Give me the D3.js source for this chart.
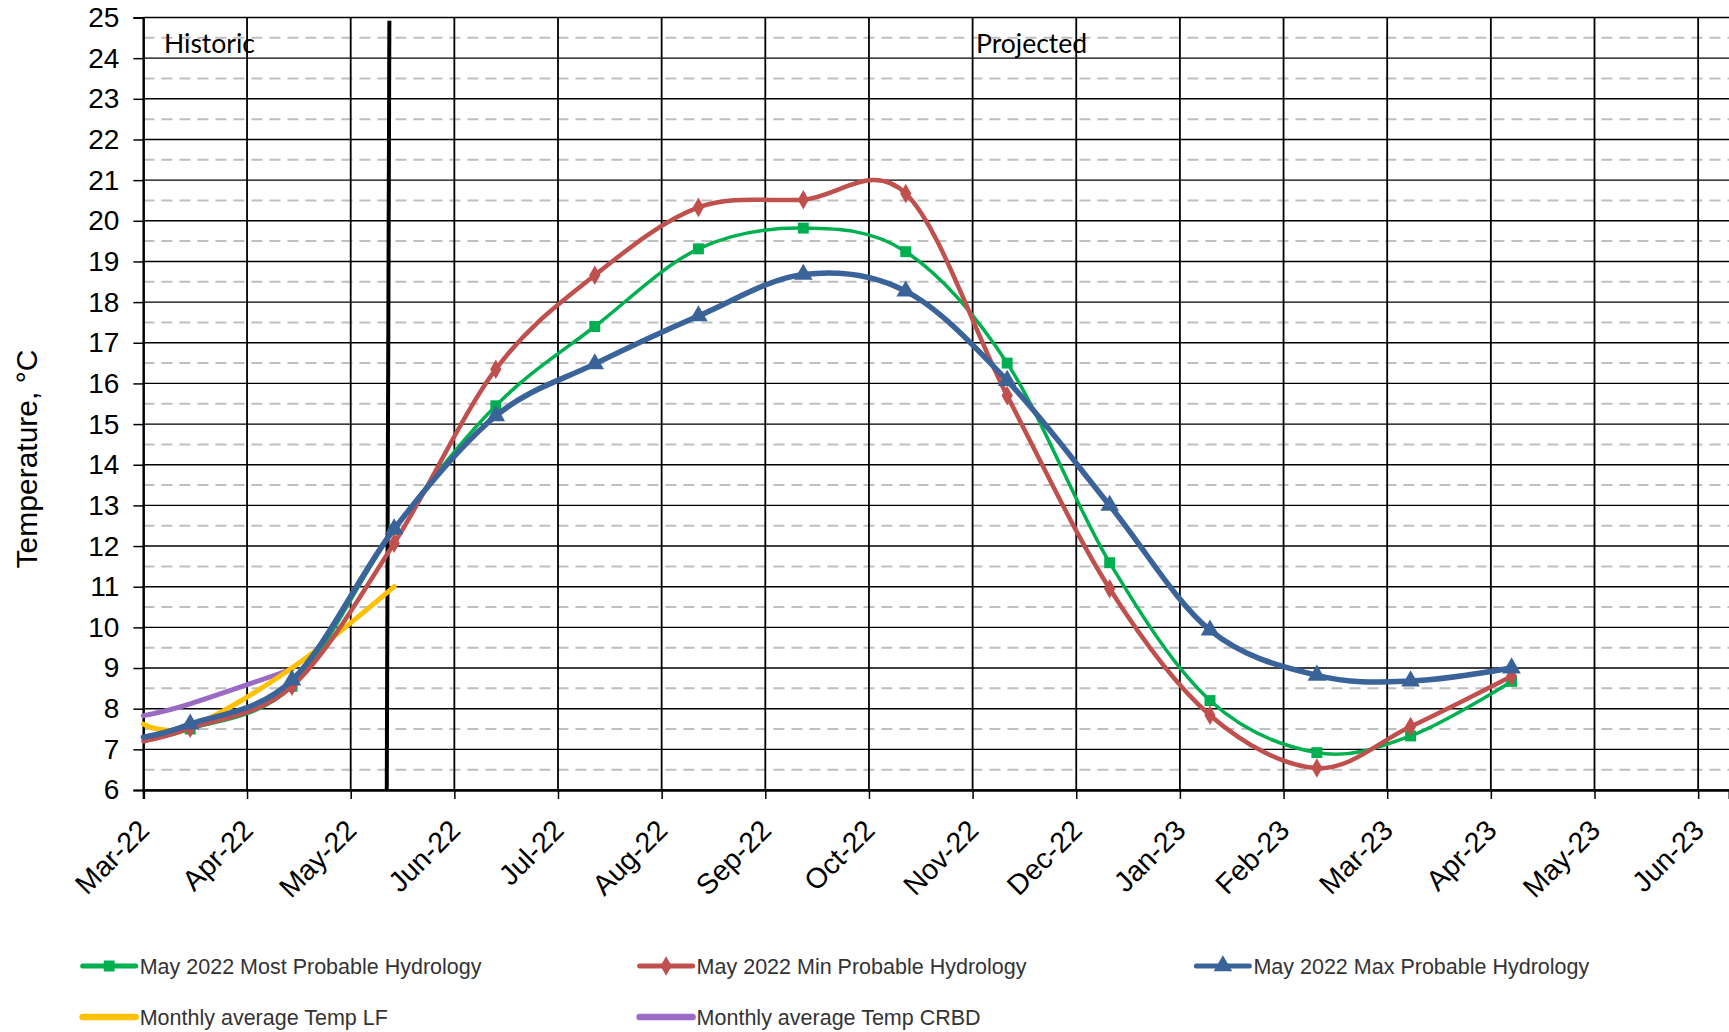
<!DOCTYPE html>
<html><head><meta charset="utf-8">
<script src="https://cdn.jsdelivr.net/npm/d3@7"></script>
<style>html,body{margin:0;padding:0;background:#fff;overflow:hidden}</style>
</head><body>
<svg id="chart" width="1729" height="1032"></svg>
<script>
// ---------- data ----------
const monthLabels = ["Mar-22","Apr-22","May-22","Jun-22","Jul-22","Aug-22","Sep-22","Oct-22","Nov-22","Dec-22","Jan-23","Feb-23","Mar-23","Apr-23","May-23","Jun-23"];
const yTickValues = [6,7,8,9,10,11,12,13,14,15,16,17,18,19,20,21,22,23,24,25];
const pointDates = ["2022-03-01","2022-03-15","2022-04-14","2022-05-14","2022-06-13","2022-07-12","2022-08-12","2022-09-12","2022-10-12","2022-11-11","2022-12-11","2023-01-10","2023-02-10","2023-03-08","2023-04-07"];
const mostProbable = [7.25, 7.5, 8.55, 12.4, 15.45, 17.4, 19.31, 19.82, 19.24, 16.5, 11.59, 8.2, 6.92, 7.33, 8.67];
const minProbable  = [7.2, 7.52, 8.55, 12.07, 16.35, 18.66, 20.33, 20.52, 20.67, 15.7, 10.95, 7.84, 6.54, 7.56, 8.8];
const maxProbable  = [7.3, 7.62, 8.7, 12.42, 15.2, 16.48, 17.66, 18.68, 18.27, 16.07, 13.0, 9.93, 8.82, 8.68, 9.0];
const lfDates = ["2022-03-01","2022-03-15","2022-04-14","2022-05-14"];
const lfTemp  = [7.62, 7.55, 9.0, 11.0];
const crbdDates = ["2022-03-01","2022-03-15","2022-04-14"];
const crbdTemp  = [7.83, 8.12, 8.97];
const dividerPos  = [2.373, 2.348];   // in months after Mar-22
const dividerTemp = [24.92, 6];
const seriesNames = ["May 2022 Most Probable Hydrology","May 2022 Min Probable Hydrology","May 2022 Max Probable Hydrology","Monthly average Temp LF","Monthly average Temp CRBD"];
const seriesColors = ["#00b050","#c0504d","#3a6399","#ffc000","#9b6bc4"];

// ---------- helpers ----------
function monthPos(s){
  const [yy,mm,dd] = s.split("-").map(Number);
  const dim = new Date(yy, mm, 0).getDate();
  return (yy-2022)*12 + (mm-3) + (dd-1)/dim;
}
const svg = d3.select("#chart");
const FONT = "'Liberation Sans', Arial, sans-serif";
const x = d3.scaleLinear().domain([0, 15.3]).range([143.4, 143.4 + 15.3*103.65]);
const y = d3.scaleLinear().domain([6, 25]).range([790, 17.5]);
const X0 = x(0), X1 = x(15.3);

// ---------- grid ----------
const grid = svg.append("g");
const halfTicks = yTickValues.slice(0,-1).map(v => v + 0.5);
grid.selectAll(".hd").data(halfTicks).join("line")
  .attr("x1", X0).attr("x2", X1).attr("y1", d=>y(d)).attr("y2", d=>y(d))
  .attr("stroke", "#bfbfbf").attr("stroke-width", 2).attr("stroke-dasharray", "11,7");
grid.selectAll(".hs").data(yTickValues).join("line")
  .attr("x1", X0).attr("x2", X1).attr("y1", d=>y(d)).attr("y2", d=>y(d))
  .attr("stroke", "#000").attr("stroke-width", 1.4);
grid.selectAll(".vs").data(monthLabels.map((d,i)=>i)).join("line")
  .attr("x1", d=>x(d)).attr("x2", d=>x(d)).attr("y1", y(25)).attr("y2", y(6))
  .attr("stroke", "#000").attr("stroke-width", 1.8);

// ---------- axes ----------
const yAxis = svg.append("g").attr("transform", `translate(${X0},0)`)
  .call(d3.axisLeft(y).tickValues(yTickValues).tickSize(10).tickPadding(14).tickFormat(d3.format("d")));
yAxis.select(".domain").attr("stroke","#000").attr("stroke-width",2);
yAxis.selectAll(".tick line").attr("stroke","#000").attr("stroke-width",1.5);
yAxis.selectAll("text").attr("font-family", FONT).attr("font-size", 28).attr("fill","#000");

const xAxis = svg.append("g").attr("transform", `translate(0,${y(6)})`)
  .call(d3.axisBottom(x).tickValues(monthLabels.map((d,i)=>i)).tickSize(9).tickFormat(i => monthLabels[i]));
xAxis.select(".domain").attr("stroke","#000").attr("stroke-width",2.5);
xAxis.selectAll(".tick line").attr("stroke","#000").attr("stroke-width",1.5);
xAxis.selectAll("text")
  .attr("font-family", FONT).attr("font-size", 28.5).attr("fill","#000")
  .attr("text-anchor","end").attr("x",0).attr("y",0).attr("dy","0.35em")
  .attr("transform","translate(0,35) rotate(-45)");

// ---------- divider ----------
svg.append("line")
  .attr("x1", x(dividerPos[0])).attr("y1", y(dividerTemp[0]))
  .attr("x2", x(dividerPos[1])).attr("y2", y(dividerTemp[1]))
  .attr("stroke", "#000").attr("stroke-width", 4);

svg.append("text").attr("x", 164).attr("y", 53).text("Historic")
  .attr("font-family","Lato, 'Open Sans', sans-serif").attr("font-size",26.5).attr("fill","#000");
svg.append("text").attr("x", 976).attr("y", 53).text("Projected")
  .attr("font-family","Lato, 'Open Sans', sans-serif").attr("font-size",26.5).attr("fill","#000");

// ---------- series ----------
const line = d3.line().x(d=>x(d[0])).y(d=>y(d[1])).curve(d3.curveCardinal.tension(0));
function pts(dates, vals){ return dates.map((d,i)=>[monthPos(d), vals[i]]); }

const series = [
  {pts: pts(crbdDates, crbdTemp), color: seriesColors[4], w: 5, marker: null},
  {pts: pts(lfDates, lfTemp), color: seriesColors[3], w: 5, marker: null},
  {pts: pts(pointDates, mostProbable), color: seriesColors[0], w: 3.5, marker: "square"},
  {pts: pts(pointDates, minProbable), color: seriesColors[1], w: 4.5, marker: "diamond"},
  {pts: pts(pointDates, maxProbable), color: seriesColors[2], w: 5.5, marker: "triangle"}
];
const symbols = {square: d3.symbolSquare, diamond: d3.symbolDiamond, triangle: d3.symbolTriangle};
const symSize = {square: 120, diamond: 110, triangle: 150};
series.forEach(s => {
  svg.append("path").attr("d", line(s.pts)).attr("fill","none")
    .attr("stroke", s.color).attr("stroke-width", s.w).attr("stroke-linejoin","round").attr("stroke-linecap","round");
  if (s.marker) {
    svg.append("g").selectAll("path").data(s.pts.slice(1)).join("path")
      .attr("transform", d=>`translate(${x(d[0])},${y(d[1])})`)
      .attr("d", d3.symbol().type(symbols[s.marker]).size(symSize[s.marker]))
      .attr("fill", s.color);
  }
});

// ---------- legend ----------
const legendItems = [
  {name: seriesNames[0], color: seriesColors[0], marker: "square", lx: 82.7, ly: 966},
  {name: seriesNames[1], color: seriesColors[1], marker: "diamond", lx: 639.6, ly: 966},
  {name: seriesNames[2], color: seriesColors[2], marker: "triangle", lx: 1196.4, ly: 966},
  {name: seriesNames[3], color: seriesColors[3], marker: null, lx: 82.7, ly: 1017},
  {name: seriesNames[4], color: seriesColors[4], marker: null, lx: 639.6, ly: 1017}
];
const lg = svg.append("g").selectAll("g").data(legendItems).join("g")
  .attr("transform", d=>`translate(${d.lx},${d.ly})`);
lg.append("line").attr("x1",0).attr("x2",53).attr("y1",0).attr("y2",0)
  .attr("stroke", d=>d.color).attr("stroke-width", d=>d.marker?5:6.5).attr("stroke-linecap","round");
lg.filter(d=>d.marker).append("path")
  .attr("transform","translate(26.5,0)")
  .attr("d", d=>d3.symbol().type(symbols[d.marker]).size(symSize[d.marker])())
  .attr("fill", d=>d.color);
lg.append("text").attr("x",57).attr("y",0).attr("dy","0.35em").text(d=>d.name)
  .attr("font-family", FONT).attr("font-size", 21.5).attr("fill","#333");

// ---------- y title ----------
svg.append("text").attr("transform","translate(37,459) rotate(-90)")
  .attr("text-anchor","middle").attr("font-family",FONT).attr("font-size",30).attr("fill","#000")
  .text("Temperature, °C");
</script>
</body></html>
